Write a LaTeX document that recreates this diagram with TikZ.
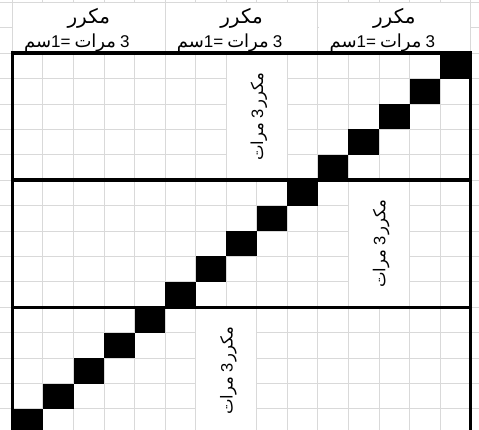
\documentclass[tikz,border=0pt]{standalone}
\usepackage{fontspec}
\setmainfont{Liberation Sans}
\newfontfamily\arfont[Script=Arabic]{DejaVu Sans}
\definecolor{gridgray}{RGB}{217,217,217}
\begin{document}
\begin{tikzpicture}[x=1pt,y=-1pt,
  gridline/.style={draw=gridgray,line width=1pt},
  thickline/.style={draw=black,line width=3.6pt},
  cellfill/.style={fill=black},
  hdrtext/.style={inner sep=0pt,anchor=base,font=\fontsize{17}{20}\selectfont},
  vlabel/.style={inner sep=0pt,rotate=90,font=\fontsize{16.5}{19}\selectfont}]
\def\XO{12.4}\def\CW{30.55}\def\YO{53.3}\def\RH{25.4}
\useasboundingbox (0,0) rectangle (479,430);
\fill[white] (0,0) rectangle (479,430);
% gray grid
\foreach \i in {0,...,15}
  \draw[gridline] ({\XO+\CW*\i},0) -- ({\XO+\CW*\i},430);
\foreach \j in {-2,...,15}
  \draw[gridline] (0,{\YO+\RH*\j}) -- (479,{\YO+\RH*\j});
% merged header cells
\foreach \c in {0,5,10}
  \fill[white] ({\XO+\CW*\c+0.6},{\YO-2*\RH+0.6}) rectangle ({\XO+\CW*(\c+5)-0.6},{\YO-0.6});
% merged label cells
\fill[white] ({\XO+\CW*7+0.6},{\YO+0.6}) rectangle ({\XO+\CW*9-0.6},{\YO+\RH*5-0.6});
\fill[white] ({\XO+\CW*11+0.6},{\YO+\RH*5+0.6}) rectangle ({\XO+\CW*13-0.6},{\YO+\RH*10-0.6});
\fill[white] ({\XO+\CW*6+0.6},{\YO+\RH*10+0.6}) rectangle ({\XO+\CW*8-0.6},{\YO+\RH*15-0.6});
% diagonal black cells
\foreach \j in {0,...,14}
  \fill[cellfill] ({\XO+\CW*(14-\j)},{\YO+\RH*\j}) rectangle ++(\CW,\RH);
% thick frame
\coordinate (tl) at (\XO,\YO);
\coordinate (br) at ({\XO+\CW*15},{\YO+\RH*15});
\coordinate (m1l) at (\XO,{\YO+\RH*5});
\coordinate (m1r) at ({\XO+\CW*15},{\YO+\RH*5});
\coordinate (m2l) at (\XO,{\YO+\RH*10});
\coordinate (m2r) at ({\XO+\CW*15},{\YO+\RH*10});
\draw[thickline] (tl) rectangle (br);
\draw[thickline] (m1l) -- (m1r);
\draw[thickline] (m2l) -- (m2r);
% header texts
\foreach \c/\n in {0/a,5/b,10/c}{
  \node[hdrtext] (hd1\n) at ({\XO+\CW*(\c+2.5)},23.5) {\fontsize{20}{22}\selectfont\arfont مكرر};
  \node[hdrtext] (hd2\n) at ({\XO+\CW*(\c+2.5)-12},48) {\hbox{\fontsize{18}{20}\selectfont\arfont سم}\hbox{1=}\hspace{4pt}\hbox{\fontsize{18}{20}\selectfont\arfont مرات}\hspace{4pt}\hbox{3}};
}
% vertical labels
\node[vlabel] (v1) at ({\XO+\CW*8+2},{\YO+\RH*2.5}) {\hbox{\arfont مرات}\hspace{4pt}\hbox{3}\hspace{2pt}\hbox{\arfont مكرر}};
\node[vlabel] (v2) at ({\XO+\CW*12+2},{\YO+\RH*7.5}) {\hbox{\arfont مرات}\hspace{4pt}\hbox{3}\hspace{2pt}\hbox{\arfont مكرر}};
\node[vlabel] (v3) at ({\XO+\CW*7+2},{\YO+\RH*12.5}) {\hbox{\arfont مرات}\hspace{4pt}\hbox{3}\hspace{2pt}\hbox{\arfont مكرر}};
\end{tikzpicture}
\end{document}
